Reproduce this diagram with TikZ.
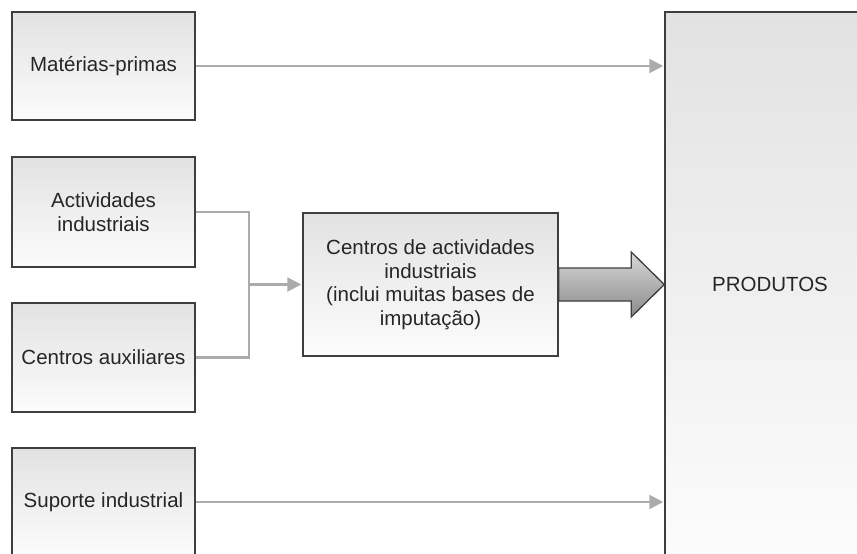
\documentclass[tikz,border=0pt]{standalone}
\usepackage{fontspec}
\setmainfont{Liberation Sans}
\usetikzlibrary{arrows.meta,calc}

\definecolor{boxline}{HTML}{3E3E3E}
\definecolor{boxtop}{HTML}{E2E2E2}
\definecolor{boxbottom}{HTML}{FCFCFC}
\definecolor{linkgray}{HTML}{ABABAB}
\definecolor{bigtop}{HTML}{D8D8D8}
\definecolor{bigbottom}{HTML}{8A8A8A}

\tikzset{
  stagebox/.style={draw=boxline, line width=1.5pt, top color=boxtop, bottom color=boxbottom,
    inner sep=0pt, align=center, font=\fontsize{20.5}{23.5}\selectfont, text=black!85},
  link/.style={draw=linkgray, line width=2.2pt},
  linkarrow/.style={link, -{Triangle[length=14pt,width=14pt]}, shorten >=1pt}
}

\begin{document}
\begin{tikzpicture}[x=1pt,y=-1pt]
  \clip (0,0) rectangle (857,554);
  \fill[white] (0,0) rectangle (857,554);

  % left column of cost sources
  \node[stagebox, minimum width=183pt, minimum height=108pt] (mat) at (103.5,66) {Matérias-primas};
  \node[stagebox, minimum width=183pt, minimum height=110pt] (act) at (103.5,212) {Actividades\\industriais};
  \node[stagebox, minimum width=183pt, minimum height=109pt] (aux) at (103.5,357.5) {Centros auxiliares};
  \node[stagebox, minimum width=183pt, minimum height=108pt] (sup) at (103.5,502) {Suporte industrial};

  % activity centres
  \node[stagebox, minimum width=255pt, minimum height=143pt] (cen) at (430.5,284.5)
    {Centros de actividades\\industriais\\(inclui muitas bases de\\imputação)};

  % products
  \node[stagebox, minimum width=210pt, minimum height=544pt] (prod) at (770,284) {PRODUTOS};

  % junction of the two inputs
  \coordinate (j) at (249,284.5);
  \draw[link] (act.east) -| (j) |- (aux.east);
  \draw[linkarrow] (j) -- (cen.west);

  % direct flows into products
  \draw[linkarrow] (mat.east) -- (mat.east -| prod.west);
  \draw[linkarrow] (sup.east) -- (sup.east -| prod.west);

  % broad arrow from the activity centres to products
  \path (cen.east) ++(0,-16.5) coordinate (s1)
        (cen.east) ++(0,16.5) coordinate (s2);
  \draw[boxline, line width=1.3pt, top color=bigtop, bottom color=bigbottom]
    (s1) -- ($(s1 -| prod.west)+(-33,0)$) -- ($(cen.east -| prod.west)+(-33,-32.5)$)
    -- (cen.east -| prod.west)
    -- ($(cen.east -| prod.west)+(-33,32.5)$) -- ($(s2 -| prod.west)+(-33,0)$) -- (s2) -- cycle;
\end{tikzpicture}
\end{document}
